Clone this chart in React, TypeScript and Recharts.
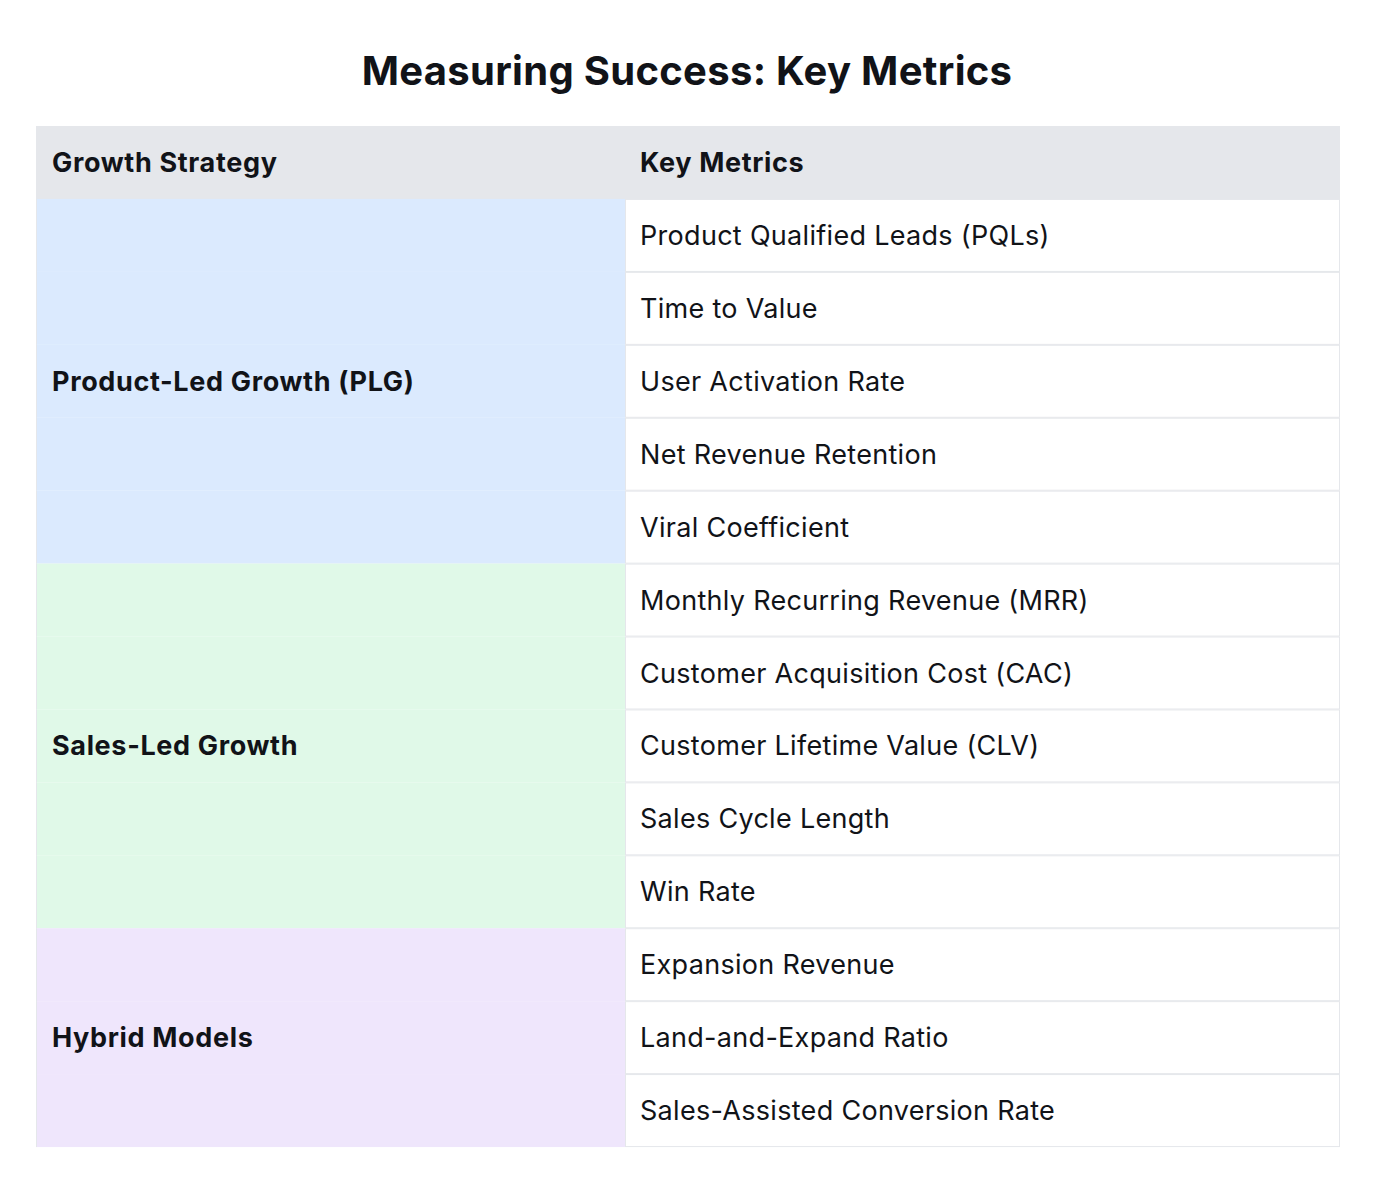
import React from 'react';
import { BarChart, Bar, XAxis, YAxis } from 'recharts';

// Table content
const title = 'Measuring Success: Key Metrics';
const headers = ['Growth Strategy', 'Key Metrics'];
const strategies = ['Product-Led Growth (PLG)', 'Sales-Led Growth', 'Hybrid Models'];
const plgMetrics = [
  'Product Qualified Leads (PQLs)',
  'Time to Value',
  'User Activation Rate',
  'Net Revenue Retention',
  'Viral Coefficient',
];
const salesMetrics = [
  'Monthly Recurring Revenue (MRR)',
  'Customer Acquisition Cost (CAC)',
  'Customer Lifetime Value (CLV)',
  'Sales Cycle Length',
  'Win Rate',
];
const hybridMetrics = ['Expansion Revenue', 'Land-and-Expand Ratio', 'Sales-Assisted Conversion Rate'];

const groupColors = ['#DBEAFE', '#E0F9E8', '#EFE6FC'];
const HEADER_BG = '#E5E7EB';
const BORDER = '#E5E7EB';
const TEXT = '#111318';
const FONT = 'Inter, "Noto Sans", sans-serif';

const W = 1374;
const H = 1180;
const LEFT_COL = 589;
const RIGHT_COL = 715;

interface Row {
  id: string;
  left: number;
  right: number;
  header: boolean;
  group: number;
  strategyLabel: string;
  metric: string;
}

const groups = [plgMetrics, salesMetrics, hybridMetrics];
const rows: Row[] = [
  { id: 'h', left: LEFT_COL, right: RIGHT_COL, header: true, group: -1, strategyLabel: headers[0], metric: headers[1] },
];
groups.forEach((metrics, g) => {
  const mid = Math.floor(metrics.length / 2);
  metrics.forEach((m, i) => {
    rows.push({
      id: `${g}-${i}`,
      left: LEFT_COL,
      right: RIGHT_COL,
      header: false,
      group: g,
      strategyLabel: i === mid ? strategies[g] : '',
      metric: m,
    });
  });
});

const LeftCell = (props: any) => {
  const { x, y, width, height, index } = props;
  const row = rows[index];
  const fill = row.header ? HEADER_BG : groupColors[row.group];
  return (
    <g>
      <rect x={x} y={y} width={width} height={height} fill={fill} />
      {!row.header && <line x1={x + 0.5} x2={x + 0.5} y1={y} y2={y + height} stroke={BORDER} />}
      {row.strategyLabel && (
        <text
          x={x + 16}
          y={y + height / 2}
          dominantBaseline="central"
          fontFamily={FONT}
          fontWeight={700}
          fontSize={27}
          letterSpacing={0.65}
          fill={TEXT}
        >
          {row.strategyLabel}
        </text>
      )}
    </g>
  );
};

const RightCell = (props: any) => {
  const { x, y, width, height, index } = props;
  const row = rows[index];
  return (
    <g>
      {row.header ? (
        <rect x={x} y={y} width={width} height={height} fill={HEADER_BG} />
      ) : (
        <rect x={x + 0.5} y={y + 0.5} width={width - 1} height={height - 1} fill="#FFFFFF" stroke={BORDER} />
      )}
      <text
        x={x + 15}
        y={y + height / 2}
        dominantBaseline="central"
        fontFamily={FONT}
        fontWeight={row.header ? 700 : 400}
        fontSize={27}
        letterSpacing={row.header ? 0.65 : 0.3}
        fill={TEXT}
      >
        {row.metric}
      </text>
    </g>
  );
};

export default function App() {
  return (
    <div style={{ position: 'absolute', top: 0, left: 0, width: W, height: H, background: '#fff' }}>
      <BarChart
        width={W}
        height={H}
        data={rows}
        layout="vertical"
        margin={{ top: 126, right: 34, bottom: 33, left: 36 }}
        barCategoryGap={0}
        barGap={0}
      >
        <XAxis type="number" hide domain={[0, LEFT_COL + RIGHT_COL]} />
        <YAxis type="category" dataKey="id" hide width={0} />
        <Bar dataKey="left" stackId="t" isAnimationActive={false} shape={LeftCell} />
        <Bar dataKey="right" stackId="t" isAnimationActive={false} shape={RightCell} />
        <text
          x={W / 2}
          y={70}
          textAnchor="middle"
          dominantBaseline="central"
          fontFamily={FONT}
          fontWeight={700}
          fontSize={40}
          letterSpacing={0.3}
          fill={TEXT}
        >
          {title}
        </text>
      </BarChart>
    </div>
  );
}
